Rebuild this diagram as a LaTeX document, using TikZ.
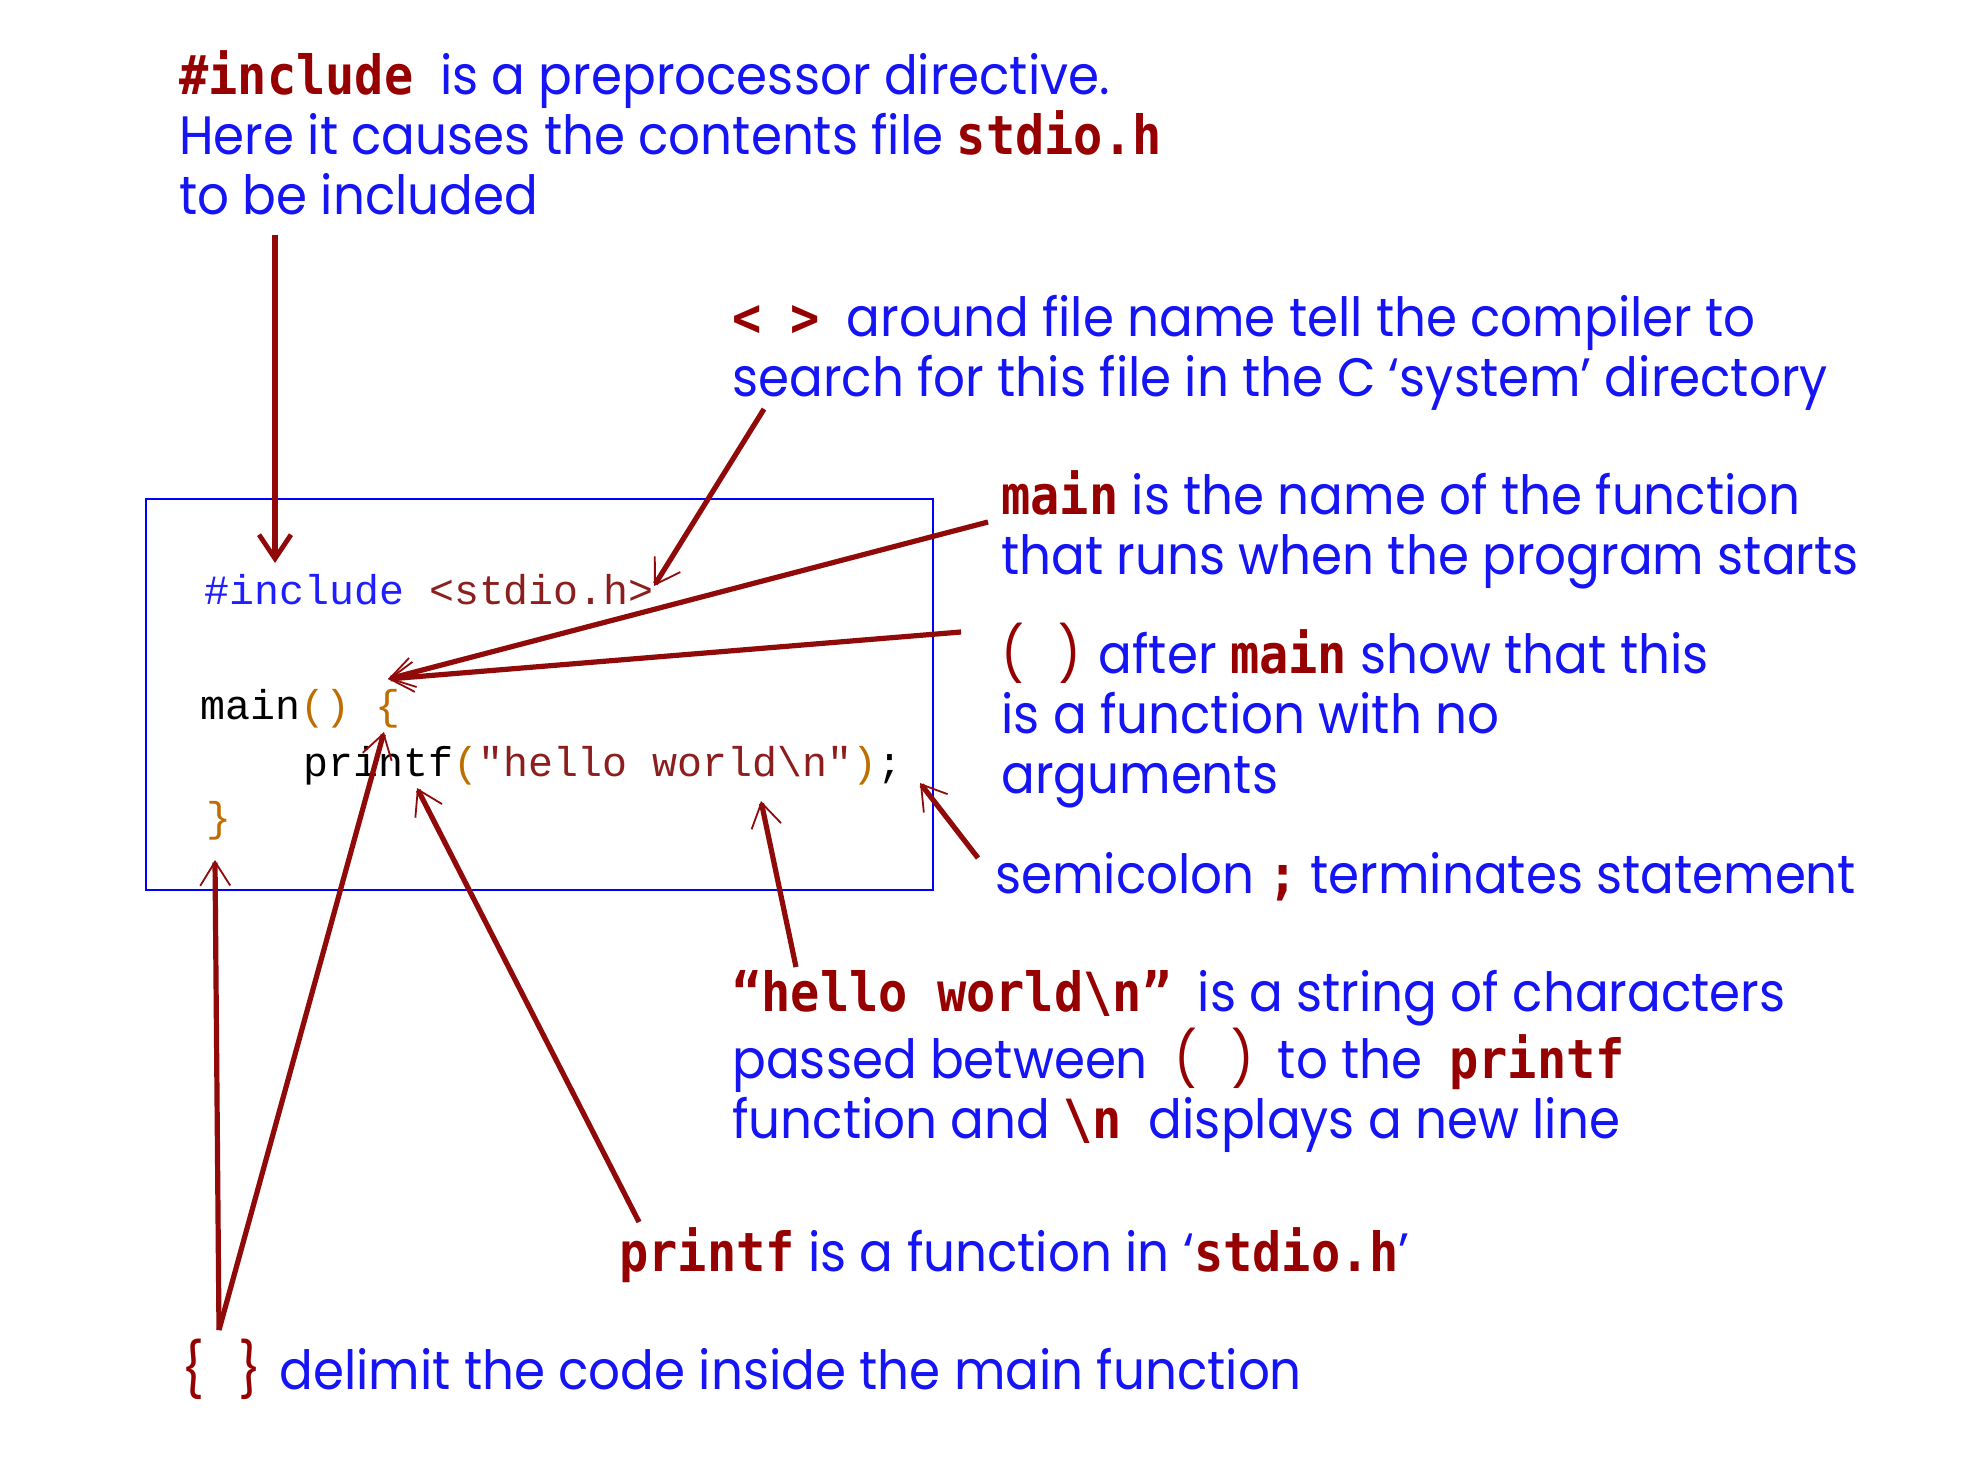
\documentclass[tikz,border=0pt]{standalone}
\usepackage{fontspec}
\usetikzlibrary{arrows.meta}
\newfontfamily\gothic[FakeStretch=0.925]{Poppins}
\newfontfamily\lblmono[FakeStretch=0.9]{DejaVu Sans Mono}
\newfontfamily\codemono{Liberation Mono}
\definecolor{ablue}{RGB}{20,20,245}
\definecolor{dred}{RGB}{150,0,0}
\definecolor{arrowred}{RGB}{145,10,10}
\definecolor{codered}{RGB}{140,30,30}
\definecolor{codeorange}{RGB}{190,110,0}
\definecolor{codeblue}{RGB}{30,30,255}
\newcommand\kw[1]{{\lblmono\bfseries\color{dred}#1}}
\newcommand\rd[1]{{\color{dred}#1}}
\newcommand\bs{\textbackslash}
\tikzset{
  note/.style={anchor=base west, inner sep=0pt, text=ablue,
    font=\gothic\fontsize{27}{30}\selectfont},
  code/.style={anchor=base west, inner sep=0pt, font=\codemono\fontsize{20.8}{24}\selectfont},
  arr/.style={draw=arrowred, line width=2.6pt,
    -{Straight Barb[length=12pt,width=15pt,line width=0.9pt]}},
  arrthick/.style={draw=arrowred, line width=2.6pt,
    -{Straight Barb[length=12pt,width=16pt,line width=2.4pt]}},
  codebox/.style={draw=blue, line width=1.2pt}
}
\begin{document}
\begin{tikzpicture}[x=0.5pt,y=-0.5pt]
\useasboundingbox[fill=white] (0,0) rectangle (1962,1470);
% code box
\draw[codebox] (146,499) rectangle (933,890);
\node[code] (inc) at (204,604) {{\color{codeblue}\#include} {\color{codered}<stdio.h>}};
\node[code] (mainl) at (200,719) {main{\color{codeorange}()} {\color{codeorange}\{}};
\node[code] (printl) at (303,776) {printf{\color{codeorange}(}{\color{codered}"hello world\bs n"}{\color{codeorange})};};
\node[code] (close) at (206,831) {{\color{codeorange}\}}};
% notes
\node[note] (n1) at (179,95) {\vtop{\hbox{\kw{\#include}\ \ is a preprocessor directive.}\hbox{Here it causes the contents file \kw{stdio.h}}\hbox{to be included}}};
\node[note] (n2) at (732,337) {\vtop{\hbox{\kw{<\ >}\ \ around file name tell the compiler to}\hbox{search for this file in the C ‘system’ directory}}};
\node[note] (n3) at (1001,514) {\vtop{\hbox{\kw{main} is the name of the function}\hbox{that runs when the program starts}}};
\node[note] (n4) at (1001,673) {\vtop{\hbox{\rd{(\hspace{17pt})}\hspace{9pt}after \kw{main} show that this}\hbox{is a function with no}\hbox{arguments}}};
\node[note] (n5) at (995,893) {semicolon \kw{;} terminates statement};
\node[note] (n6) at (732,1011) {\vtop{\hbox{\kw{“hello world\bs n”}\ \ is a string of characters}\hbox{passed between\ \ \rd{(\hspace{17pt})}\hspace{12pt}to the\ \ \kw{printf}}\hbox{function and \kw{\bs n}\ \ displays a new line}}};
\node[note] (n7) at (619,1271) {\kw{printf} is a function in ‘\kw{stdio.h}’};
\node[note] (n8) at (181,1389) {\rd{\{\hspace{17pt}\}}\hspace{9pt}delimit the code inside the main function};
% arrow end points
\coordinate (a1s) at (275,235); \coordinate (a1e) at (275,563);
\coordinate (a2s) at (764,409); \coordinate (a2e) at (654,586);
\coordinate (a3s) at (988,522); \coordinate (a3e) at (388,679);
\coordinate (a4s) at (961,632);
\coordinate (a5s) at (978,858); \coordinate (a5e) at (920,783);
\coordinate (a6s) at (796,967); \coordinate (a6e) at (761,801);
\coordinate (a7s) at (639,1222); \coordinate (a7e) at (417,788);
\coordinate (a8s) at (219,1330); \coordinate (a8e) at (384,732);
\coordinate (a9e) at (215,860);
\draw[arrthick] (a1s) -- (a1e);
\draw[arr] (a2s) -- (a2e);
\draw[arr] (a3s) -- (a3e);
\draw[arr] (a4s) -- (a3e);
\draw[arr] (a5s) -- (a5e);
\draw[arr] (a6s) -- (a6e);
\draw[arr] (a7s) -- (a7e);
\draw[arr] (a8s) -- (a8e);
\draw[arr] (a8s) -- (a9e);
\end{tikzpicture}
\end{document}
